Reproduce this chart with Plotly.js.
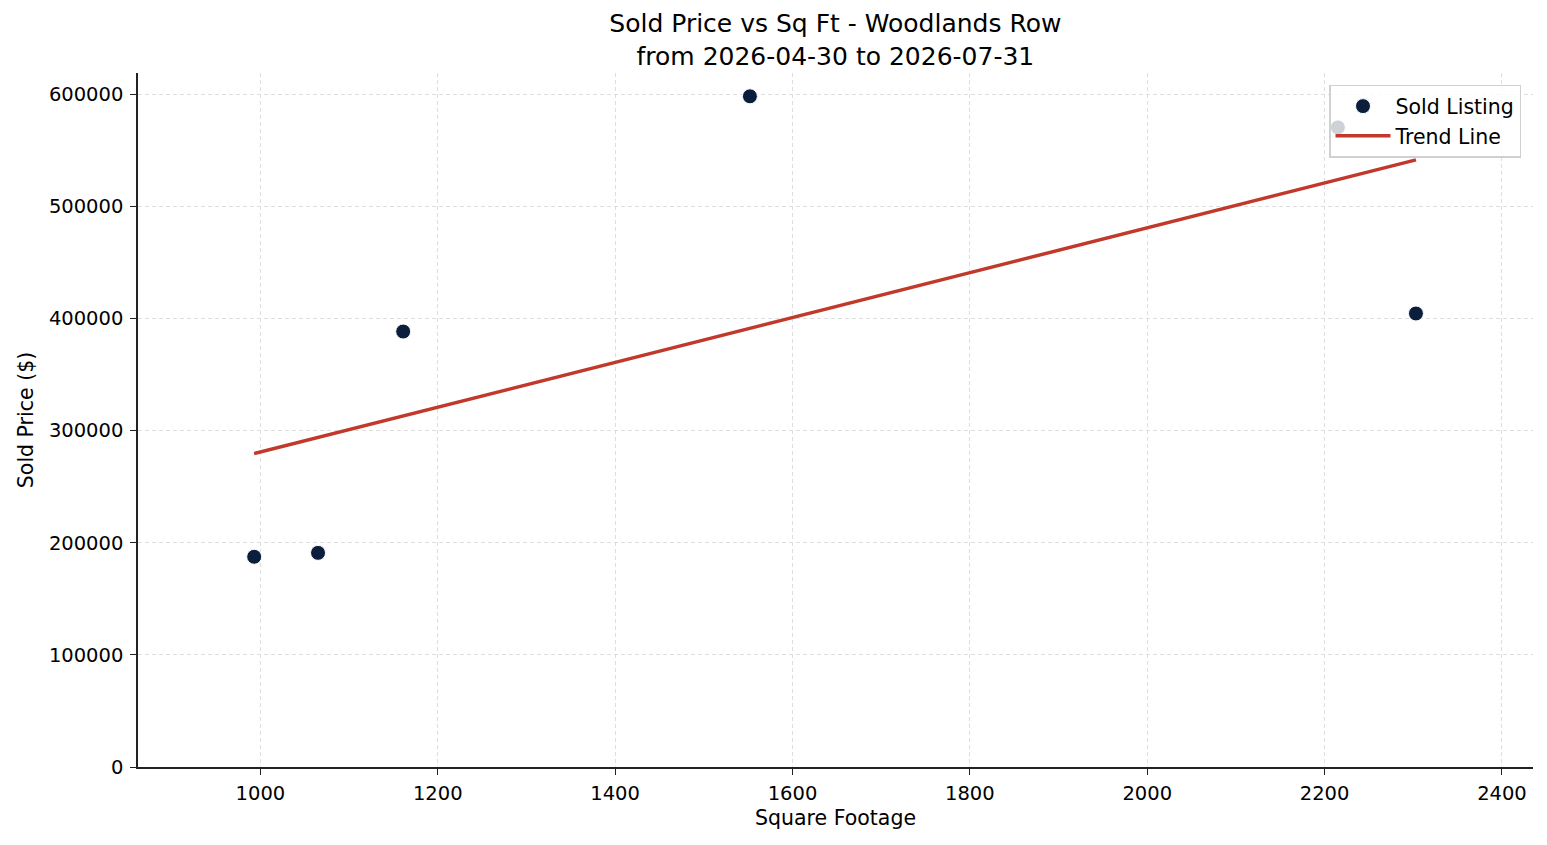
<!DOCTYPE html>
<html>
    <head>
        <script src="https://cdn.plot.ly/plotly-3.0.1.min.js"></script>
        <style>body { margin: 0; }</style>
    </head>
    <body>
        <div id="plot" style="width:1547px;height:845px;"></div>
        <script type="text/javascript">
            // sold listings
            var sqft = [993, 1065, 1161, 1552, 2215, 2303];
            var price = [187500, 191000, 388400, 598200, 570500, 404500];
            // trend line endpoints
            var trendX = [993, 2303];
            var trendY = [279500, 541500];

            var font = 'DejaVu Sans, sans-serif';
            var traces = [
                {x: sqft, y: price, mode: 'markers', type: 'scatter', name: 'Sold Listing',
                 marker: {color: '#0b1f3d', size: 15, line: {color: '#ffffff', width: 1}}},
                {x: trendX, y: trendY, mode: 'lines', type: 'scatter', name: 'Trend Line',
                 line: {color: '#c0392b', width: 3.5}}
            ];
            var axis = {
                showline: true, linecolor: '#222', linewidth: 1.5,
                ticks: 'outside', ticklen: 6, tickcolor: '#222', tickwidth: 1.3,
                showgrid: true, gridcolor: '#dedede', griddash: '4px,3px', gridwidth: 0.8,
                zeroline: false, tickfont: {size: 19.5, color: '#000', family: font}
            };
            var layout = {
                width: 1547, height: 845,
                margin: {l: 138, r: 14, t: 73, b: 78},
                paper_bgcolor: '#fff', plot_bgcolor: '#fff',
                font: {family: font, color: '#000'},
                title: {text: 'Sold Price vs Sq Ft - Woodlands Row<br>from 2026-04-30 to 2026-07-31',
                        font: {size: 25}, x: 0.54, xanchor: 'center',
                        yref: 'container', y: 0.962, yanchor: 'middle'},
                xaxis: Object.assign({}, axis, {
                    range: [862, 2435], tickvals: [1000, 1200, 1400, 1600, 1800, 2000, 2200, 2400],
                    ticklabelstandoff: 2,
                    title: {text: 'Square Footage', font: {size: 20.5}, standoff: 6}
                }),
                yaxis: Object.assign({}, axis, {
                    range: [0, 619000], tickvals: [0, 100000, 200000, 300000, 400000, 500000, 600000],
                    tickformat: 'd', ticklabelstandoff: 3,
                    title: {text: 'Sold Price ($)', font: {size: 20.5}, standoff: 10}
                }),
                showlegend: true,
                legend: {x: 0.9914, xanchor: 'right', y: 0.983, yanchor: 'top',
                         bgcolor: 'rgba(255,255,255,0.8)', bordercolor: '#d0d0d0', borderwidth: 1.5,
                         font: {size: 20.5}, itemwidth: 55, tracegroupgap: 0}
            };
            Plotly.newPlot('plot', traces, layout, {displayModeBar: false});
        </script>
    </body>
</html>
